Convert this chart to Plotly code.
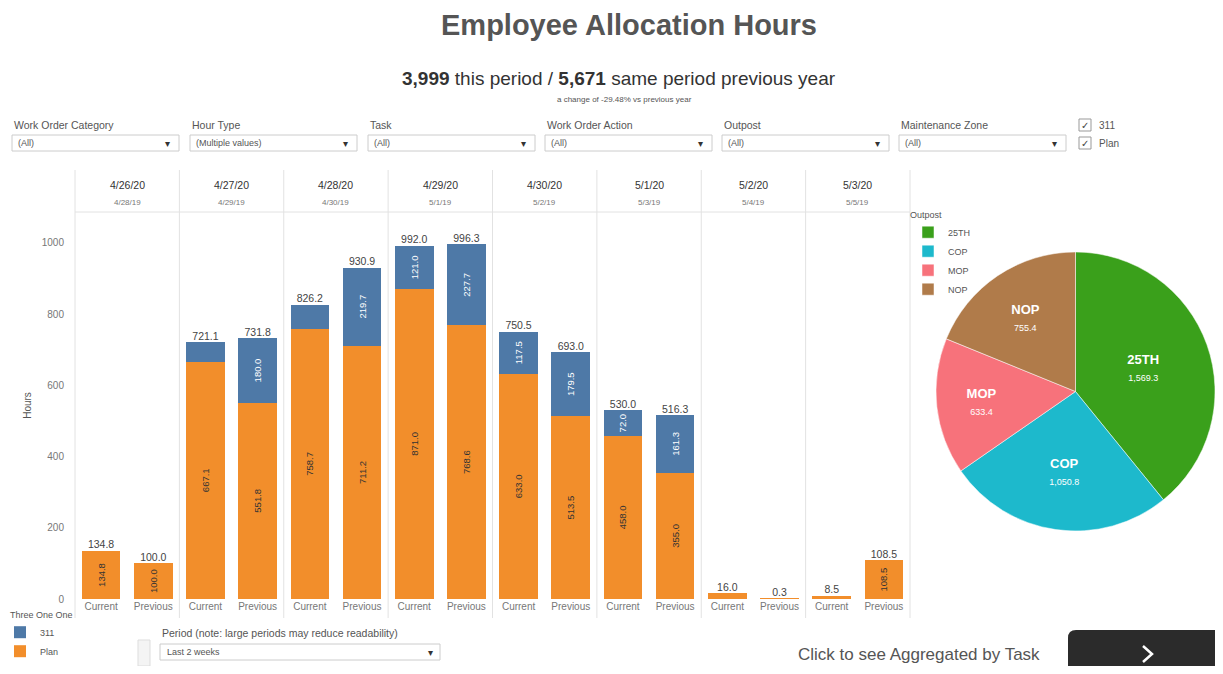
import plotly.graph_objects as go

# ---------------- data ----------------
dates = ["4/26/20", "4/27/20", "4/28/20", "4/29/20", "4/30/20", "5/1/20", "5/2/20", "5/3/20"]
prev_dates = ["4/28/19", "4/29/19", "4/30/19", "5/1/19", "5/2/19", "5/3/19", "5/4/19", "5/5/19"]
periods = ["Current", "Previous"]
plan_current = [134.8, 667.1, 758.7, 871.0, 633.0, 458.0, 16.0, 8.5]
plan_previous = [100.0, 551.8, 711.2, 768.6, 513.5, 355.0, 0.3, 108.5]
t311_current = [None, 54.0, 67.5, 121.0, 117.5, 72.0, None, None]
t311_previous = [None, 180.0, 219.7, 227.7, 179.5, 161.3, None, None]

outposts = ["25TH", "COP", "MOP", "NOP"]
outpost_hours = [1569.3, 1050.8, 633.4, 755.4]

y_ticks = [0, 200, 400, 600, 800, 1000]

# ---------------- styling ----------------
PAGE_W, PAGE_H = 1223, 674
OFF = 8                      # default body margin of the html page
W, H = PAGE_W - 2 * OFF, PAGE_H - 2 * OFF
FONT = "Arial, Liberation Sans, sans-serif"
ORANGE = "#f28e2b"
BLUE = "#4e79a7"
PIE_COLORS = ["#3aa01b", "#1db9cc", "#f7727b", "#b07b4a"]
GRID = "#e2e2e2"


def px(x):
    return (x - OFF) / W


def py(y):
    return 1 - (y - OFF) / H


def note(x, y, text, size, color="#555555", xanchor="center", yanchor="middle", family=FONT):
    return dict(xref="paper", yref="paper", x=px(x), y=py(y), text=text,
                showarrow=False, xanchor=xanchor, yanchor=yanchor,
                font=dict(size=size, color=color, family=family))


left_px, right_px = 75, 910
top_px, bottom_px = 212, 599
n = len(dates)
col_w = (right_px - left_px) / n

fig = go.Figure()

layout_axes = {}
for i in range(n):
    ax = "" if i == 0 else str(i + 1)
    x0 = left_px + i * col_w
    x1 = x0 + col_w
    layout_axes[f"xaxis{ax}"] = dict(
        domain=[px(x0), px(x1)], anchor="y", type="category",
        categoryorder="array", categoryarray=periods, range=[-0.5, 1.5],
        showgrid=False, zeroline=False, showline=False, ticks="", automargin=False,
        tickfont=dict(size=10, color="#777777", family=FONT),
    )
    xref = "x" + ax
    plan_vals = [plan_current[i], plan_previous[i]]
    b311_vals = [t311_current[i], t311_previous[i]]
    totals = [plan_vals[k] + (b311_vals[k] or 0) for k in range(2)]

    fig.add_trace(go.Bar(
        x=periods, y=plan_vals, xaxis=xref, yaxis="y",
        name="Plan", legend="legend2", legendrank=2,
        showlegend=(i == 0), marker=dict(color=ORANGE, line=dict(width=0)),
        text=[f"{v:.1f}" for v in plan_vals], textposition="inside",
        insidetextanchor="middle", textangle=-90,
        textfont=dict(size=9.5, color="#333333", family=FONT),
        hoverinfo="skip",
    ))
    fig.add_trace(go.Bar(
        x=periods, y=b311_vals, xaxis=xref, yaxis="y",
        name="311", legend="legend2", legendrank=1,
        showlegend=(i == 0), marker=dict(color=BLUE, line=dict(width=0)),
        text=[("" if v is None or v < 70 else f"{v:.1f}") for v in b311_vals],
        textposition="inside", insidetextanchor="middle", textangle=-90,
        textfont=dict(size=9.5, color="white", family=FONT),
        hoverinfo="skip",
    ))
    fig.add_trace(go.Scatter(
        x=periods, y=totals, xaxis=xref, yaxis="y", mode="text",
        text=[f"{v:.1f}" for v in totals], textposition="top center",
        textfont=dict(size=10.5, color="#444444", family=FONT),
        showlegend=False, cliponaxis=False, hoverinfo="skip",
    ))

fig.add_trace(go.Pie(
    labels=outposts, values=outpost_hours, sort=False, direction="clockwise",
    rotation=0, marker=dict(colors=PIE_COLORS, line=dict(color="white", width=0.5)),
    texttemplate="<b>%{label}</b><br><span style='font-size:9px'>%{value:,.1f}</span>",
    textposition="inside", insidetextorientation="horizontal",
    textfont=dict(size=13, color="white", family=FONT),
    domain=dict(x=[px(936), 1.0], y=[py(535), py(248)]),
    legend="legend", hoverinfo="skip",
))

shapes = []
annotations = []

# column separators and header line
for i in range(n + 1):
    x = left_px + i * col_w
    shapes.append(dict(type="line", xref="paper", yref="paper",
                       x0=px(x), x1=px(x), y0=py(170), y1=py(618),
                       line=dict(color=GRID, width=1)))
shapes.append(dict(type="line", xref="paper", yref="paper",
                   x0=px(left_px), x1=px(right_px), y0=py(top_px), y1=py(top_px),
                   line=dict(color=GRID, width=1)))

for i in range(n):
    cx = left_px + (i + 0.5) * col_w
    annotations.append(note(cx, 185, dates[i], 10.5, "#333333"))
    annotations.append(note(cx, 203, prev_dates[i], 8, "#777777"))

# Titles
annotations.append(note(629, 25, "<b>Employee Allocation Hours</b>", 29, "#555555"))
annotations.append(note(619, 79, "<b>3,999</b> this period / <b>5,671</b> same period previous year",
                        19, "#333333"))
annotations.append(note(625, 99, "a change of -29.48% vs previous year", 8, "#555555"))

# Filter controls
filters = [("Work Order Category", "(All)", 12), ("Hour Type", "(Multiple values)", 190),
           ("Task", "(All)", 368), ("Work Order Action", "(All)", 545),
           ("Outpost", "(All)", 722), ("Maintenance Zone", "(All)", 899)]
for label, val, x0 in filters:
    annotations.append(note(x0, 125, label, 10.5, "#555555", xanchor="left"))
    shapes.append(dict(type="rect", xref="paper", yref="paper",
                       x0=px(x0), x1=px(x0 + 167), y0=py(151), y1=py(135),
                       line=dict(color="#cccccc", width=1), fillcolor="white"))
    annotations.append(note(x0 + 4, 143, val, 9, "#555555", xanchor="left"))
    annotations.append(note(x0 + 155, 143, "▾", 10, "#333333"))

for label, yy in [("311", 125), ("Plan", 143)]:
    shapes.append(dict(type="rect", xref="paper", yref="paper",
                       x0=px(1079), x1=px(1091), y0=py(yy + 6), y1=py(yy - 6),
                       line=dict(color="#999999", width=1), fillcolor="white"))
    annotations.append(note(1085, yy, "✓", 10, "#444444", family="DejaVu Sans"))
    annotations.append(note(1097, yy, label, 10, "#555555", xanchor="left"))

# Bottom controls
annotations.append(note(160, 633, "Period (note: large periods may reduce readability)",
                        10.5, "#555555", xanchor="left"))
shapes.append(dict(type="rect", xref="paper", yref="paper",
                   x0=px(160), x1=px(440), y0=py(660), y1=py(644),
                   line=dict(color="#cccccc", width=1), fillcolor="white"))
annotations.append(note(165, 652, "Last 2 weeks", 9, "#555555", xanchor="left"))
annotations.append(note(430, 652, "▾", 10, "#333333"))
shapes.append(dict(type="rect", xref="paper", yref="paper",
                   x0=px(138), x1=px(150), y0=py(666), y1=py(640),
                   line=dict(color="#dddddd", width=1), fillcolor="#f4f4f4"))

annotations.append(note(919, 654, "Click to see Aggregated by Task", 17, "#555555"))
shapes.append(dict(type="path", xref="paper", yref="paper",
                   path=(f"M {px(1076)},{py(630)} L {px(1215)},{py(630)} L {px(1215)},{py(666)} "
                         f"L {px(1068)},{py(666)} L {px(1068)},{py(638)} "
                         f"Q {px(1068)},{py(630)} {px(1076)},{py(630)} Z"),
                   fillcolor="#2b2b2b", line=dict(width=0)))
shapes.append(dict(type="path", xref="paper", yref="paper",
                   path=(f"M {px(1143)},{py(646)} L {px(1152)},{py(654)} L {px(1143)},{py(662)}"),
                   line=dict(color="white", width=2.5)))

fig.update_layout(
    width=W, height=H, autosize=False,
    margin=dict(l=0, r=0, t=0, b=0, autoexpand=False),
    paper_bgcolor="white", plot_bgcolor="white",
    barmode="stack", bargap=0.26,
    font=dict(family=FONT),
    uniformtext=dict(minsize=8, mode="hide"),
    yaxis=dict(domain=[py(bottom_px), py(top_px)], range=[0, 1087],
               tickvals=y_ticks, showgrid=False, zeroline=False, showline=False,
               ticks="", ticklabelstandoff=10, automargin=False,
               tickfont=dict(size=10, color="#777777", family=FONT),
               title=dict(text="Hours", font=dict(size=10, color="#555555", family=FONT),
                          standoff=8),
               anchor="x"),
    legend=dict(x=px(908), y=py(206), xanchor="left", yanchor="top",
                title=dict(text="Outpost", font=dict(size=9, color="#555555")),
                font=dict(size=9, color="#555555", family=FONT),
                bgcolor="rgba(0,0,0,0)", itemwidth=30, tracegroupgap=0),
    legend2=dict(x=0, y=0, xanchor="left", yanchor="bottom",
                 title=dict(text="Three One One", font=dict(size=9, color="#555555")),
                 font=dict(size=9, color="#555555", family=FONT),
                 bgcolor="rgba(0,0,0,0)", itemwidth=30, tracegroupgap=0,
                 traceorder="normal", indentation=-8),
    shapes=shapes, annotations=annotations,
    **layout_axes,
)

fig.write_html("out.html")
